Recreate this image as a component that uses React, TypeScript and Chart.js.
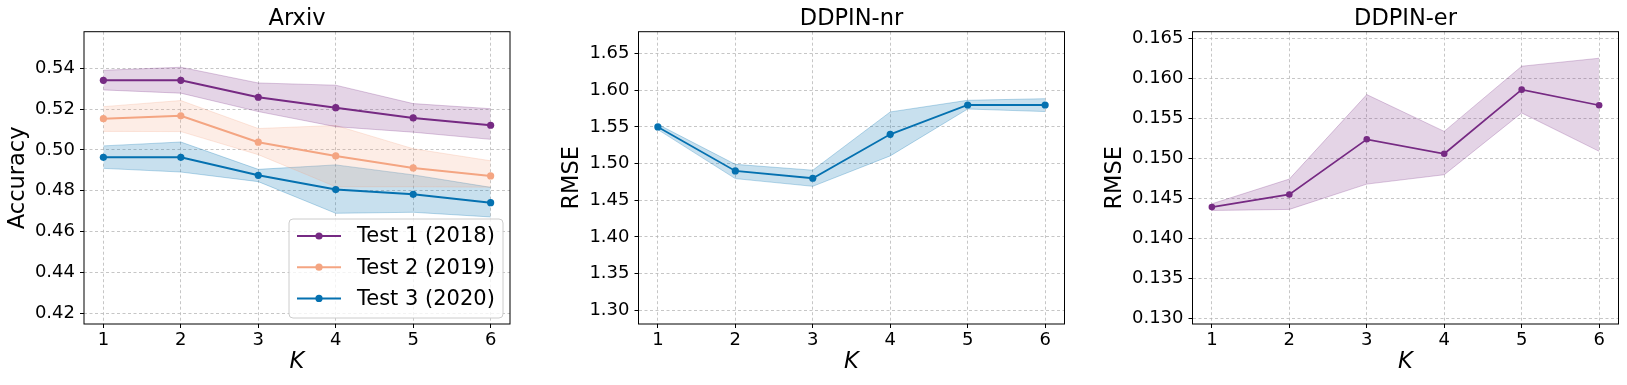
import React, { useEffect, useRef } from 'react';
import { Chart, registerables } from 'chart.js';

Chart.register(...registerables);
Chart.defaults.font.family = 'DejaVu Sans';

const K = [1, 2, 3, 4, 5, 6];
const kTickLabels = ['1', '2', '3', '4', '5', '6'];

// Arxiv
const arxivSeriesNames = ['Test 1 (2018)', 'Test 2 (2019)', 'Test 3 (2020)'];
const arxivTest1 = [0.5341, 0.5341, 0.5258, 0.5207, 0.5157, 0.5121];
const arxivTest1Upper = [0.539, 0.5405, 0.5328, 0.5317, 0.5227, 0.5202];
const arxivTest1Lower = [0.5294, 0.5278, 0.5188, 0.5114, 0.5087, 0.5052];
const arxivTest2 = [0.5153, 0.5167, 0.5038, 0.4971, 0.4912, 0.4873];
const arxivTest2Upper = [0.5212, 0.5242, 0.5105, 0.512, 0.5006, 0.4947];
const arxivTest2Lower = [0.5091, 0.509, 0.4977, 0.482, 0.482, 0.4818];
const arxivTest3 = [0.4964, 0.4964, 0.4876, 0.4806, 0.4783, 0.4742];
const arxivTest3Upper = [0.502, 0.5039, 0.4905, 0.4927, 0.4878, 0.4817];
const arxivTest3Lower = [0.491, 0.4892, 0.4845, 0.469, 0.4695, 0.4672];
const arxivYTicks = [0.42, 0.44, 0.46, 0.48, 0.5, 0.52, 0.54];

// DDPIN-nr
const nrValues = [1.55, 1.49, 1.48, 1.54, 1.58, 1.58];
const nrUpper = [1.5536, 1.499, 1.491, 1.5705, 1.5864, 1.5886];
const nrLower = [1.5464, 1.4795, 1.469, 1.5105, 1.5745, 1.571];
const nrYTicks = [1.3, 1.35, 1.4, 1.45, 1.5, 1.55, 1.6, 1.65];

// DDPIN-er
const erValues = [0.14392, 0.1455, 0.15238, 0.15058, 0.15858, 0.15663];
const erUpper = [0.14433, 0.14742, 0.15796, 0.15337, 0.1615, 0.1625];
const erLower = [0.1435, 0.14363, 0.14679, 0.14796, 0.15567, 0.15088];
const erYTicks = [0.13, 0.135, 0.14, 0.145, 0.15, 0.155, 0.16, 0.165];

const PURPLE = '#762a83';
const ORANGE = '#f4a582';
const BLUE = '#0571b0';

function hexA(hex: string, a: number) {
  const r = parseInt(hex.slice(1, 3), 16);
  const g = parseInt(hex.slice(3, 5), 16);
  const b = parseInt(hex.slice(5, 7), 16);
  return `rgba(${r},${g},${b},${a})`;
}

const pts = (ys: number[]) => K.map((k, i) => ({ x: k, y: ys[i] }));

function seriesDatasets(label: string, color: string, vals: number[], up: number[], lo: number[], radius: number, lw: number, bandAlpha: number) {
  return [
    {
      label,
      data: pts(vals),
      borderColor: color,
      backgroundColor: color,
      borderWidth: lw,
      pointRadius: radius,
      pointBorderWidth: 0,
      pointBackgroundColor: color,
      fill: false,
      tension: 0,
      order: 0,
    },
    {
      label: label + ' upper',
      data: pts(up),
      borderColor: hexA(color, bandAlpha + 0.05),
      borderWidth: 1,
      pointRadius: 0,
      backgroundColor: hexA(color, bandAlpha),
      fill: '+1',
      tension: 0,
      order: 1,
    },
    {
      label: label + ' lower',
      data: pts(lo),
      borderColor: hexA(color, bandAlpha + 0.05),
      borderWidth: 1,
      pointRadius: 0,
      fill: false,
      tension: 0,
      order: 1,
    },
  ];
}

interface PanelCfg {
  left: number;
  width: number;
  yWidth: number;
  padRight: number;
  yMin: number;
  yMax: number;
  yTicks: number[];
  decimals: number;
  title: string;
  yTitle: string;
  yTitlePad: number;
  datasets: any[];
  legend?: { names: string[]; colors: string[] };
}

const framePlugin = {
  id: 'frameAndTitle',
  afterDatasetsDraw(chart: any, _args: any, opts: any) {
    const { ctx, chartArea } = chart;
    ctx.save();
    ctx.strokeStyle = '#000';
    ctx.lineWidth = 1;
    ctx.setLineDash([]);
    ctx.strokeRect(chartArea.left, chartArea.top, chartArea.right - chartArea.left, chartArea.bottom - chartArea.top);
    // title
    ctx.fillStyle = '#000';
    ctx.font = '22.5px "DejaVu Sans"';
    ctx.textAlign = 'center';
    ctx.textBaseline = 'alphabetic';
    ctx.fillText(opts.title, (chartArea.left + chartArea.right) / 2, 25);
    // legend
    const lg = opts.legend;
    if (lg) {
      const w = 214;
      const h = 99;
      const x = chartArea.right - 7 - w;
      const y = chartArea.bottom - 6 - h;
      ctx.beginPath();
      const r = 4;
      ctx.moveTo(x + r, y);
      ctx.arcTo(x + w, y, x + w, y + h, r);
      ctx.arcTo(x + w, y + h, x, y + h, r);
      ctx.arcTo(x, y + h, x, y, r);
      ctx.arcTo(x, y, x + w, y, r);
      ctx.closePath();
      ctx.fillStyle = 'rgba(255,255,255,0.8)';
      ctx.fill();
      ctx.strokeStyle = '#cccccc';
      ctx.lineWidth = 1;
      ctx.stroke();
      ctx.font = '21px "DejaVu Sans"';
      ctx.textAlign = 'left';
      ctx.textBaseline = 'middle';
      lg.names.forEach((name: string, i: number) => {
        const cy = y + 17 + i * 31.2;
        ctx.strokeStyle = lg.colors[i];
        ctx.lineWidth = 2;
        ctx.beginPath();
        ctx.moveTo(x + 8, cy);
        ctx.lineTo(x + 52, cy);
        ctx.stroke();
        ctx.fillStyle = lg.colors[i];
        ctx.beginPath();
        ctx.arc(x + 30, cy, 3.6, 0, Math.PI * 2);
        ctx.fill();
        ctx.fillStyle = '#000';
        ctx.fillText(name, x + 68, cy + 1);
      });
    }
    ctx.restore();
  },
};

function Panel({ cfg }: { cfg: PanelCfg }) {
  const ref = useRef<HTMLCanvasElement | null>(null);
  useEffect(() => {
    if (!ref.current) return;
    const tickFont = { size: 18, family: 'DejaVu Sans' };
    const gridCommon = {
      color: 'rgba(176,176,176,0.9)',
      lineWidth: 0.8,
      drawTicks: true,
      tickLength: 4,
      tickColor: '#000',
      tickWidth: 1,
      tickBorderDash: [],
    };
    const chart = new Chart(ref.current, {
      type: 'line',
      data: { datasets: cfg.datasets },
      plugins: [framePlugin],
      options: {
        animation: false,
        responsive: false,
        maintainAspectRatio: false,
        events: [],
        layout: { padding: { left: 0, right: cfg.padRight, top: 31.7, bottom: 0 } },
        plugins: {
          legend: { display: false },
          tooltip: { enabled: false },
          title: { display: false },
          frameAndTitle: { title: cfg.title, legend: cfg.legend },
        } as any,
        scales: {
          x: {
            type: 'linear',
            min: 0.75,
            max: 6.25,
            afterBuildTicks: (s: any) => {
              s.ticks = K.map((v) => ({ value: v }));
            },
            afterFit: (s: any) => {
              s.height = 61;
            },
            ticks: {
              font: tickFont,
              color: '#000',
              padding: 2,
              maxRotation: 0,
              autoSkip: false,
              callback: (v: any) => kTickLabels[K.indexOf(Number(v))] ?? '',
            },
            grid: gridCommon,
            border: { display: false, dash: [3, 2.5] },
            title: {
              display: true,
              text: 'K',
              color: '#000',
              font: { size: 22.5, style: 'italic', family: 'DejaVu Sans' },
              padding: { top: 0, bottom: 9 },
            },
          },
          y: {
            type: 'linear',
            min: cfg.yMin,
            max: cfg.yMax,
            afterBuildTicks: (s: any) => {
              s.ticks = cfg.yTicks.map((v) => ({ value: v }));
            },
            afterFit: (s: any) => {
              s.width = cfg.yWidth;
            },
            ticks: {
              font: tickFont,
              color: '#000',
              padding: 5,
              autoSkip: false,
              callback: (v: any) => Number(v).toFixed(cfg.decimals),
            },
            grid: gridCommon,
            border: { display: false, dash: [3, 2.5] },
            title: {
              display: true,
              text: cfg.yTitle,
              color: '#000',
              font: { size: 22.5, family: 'DejaVu Sans' },
              padding: { top: cfg.yTitlePad, bottom: 0 },
            },
          },
        },
      } as any,
    });
    return () => chart.destroy();
  }, [cfg]);
  return (
    <canvas
      ref={ref}
      width={cfg.width}
      height={385}
      style={{ position: 'absolute', left: cfg.left, top: 0, width: cfg.width, height: 385, display: 'block' }}
    />
  );
}

const panels: PanelCfg[] = [
  {
    left: 0,
    width: 520,
    yWidth: 84,
    padRight: 10,
    yMin: 0.4148,
    yMax: 0.5579,
    yTicks: arxivYTicks,
    decimals: 2,
    title: 'Arxiv',
    yTitle: 'Accuracy',
    yTitlePad: 5,
    datasets: [
      ...seriesDatasets(arxivSeriesNames[0], PURPLE, arxivTest1, arxivTest1Upper, arxivTest1Lower, 3.6, 2, 0.2),
      ...seriesDatasets(arxivSeriesNames[1], ORANGE, arxivTest2, arxivTest2Upper, arxivTest2Lower, 3.6, 2, 0.2),
      ...seriesDatasets(arxivSeriesNames[2], BLUE, arxivTest3, arxivTest3Upper, arxivTest3Lower, 3.6, 2, 0.22),
    ],
    legend: { names: arxivSeriesNames, colors: [PURPLE, ORANGE, BLUE] },
  },
  {
    left: 530,
    width: 544,
    yWidth: 108.5,
    padRight: 9.5,
    yMin: 1.2811,
    yMax: 1.68,
    yTicks: nrYTicks,
    decimals: 2,
    title: 'DDPIN-nr',
    yTitle: 'RMSE',
    yTitlePad: 29,
    datasets: [...seriesDatasets('DDPIN-nr', BLUE, nrValues, nrUpper, nrLower, 3.6, 1.8, 0.22)],
  },
  {
    left: 1080,
    width: 547,
    yWidth: 112.5,
    padRight: 8.5,
    yMin: 0.12933,
    yMax: 0.16581,
    yTicks: erYTicks,
    decimals: 3,
    title: 'DDPIN-er',
    yTitle: 'RMSE',
    yTitlePad: 21.7,
    datasets: [...seriesDatasets('DDPIN-er', PURPLE, erValues, erUpper, erLower, 3.3, 1.7, 0.2)],
  },
];

export default function App() {
  return (
    <div style={{ position: 'fixed', left: 0, top: 0, width: 1627, height: 385, background: '#fff' }}>
      {panels.map((p, i) => (
        <Panel key={i} cfg={p} />
      ))}
    </div>
  );
}
